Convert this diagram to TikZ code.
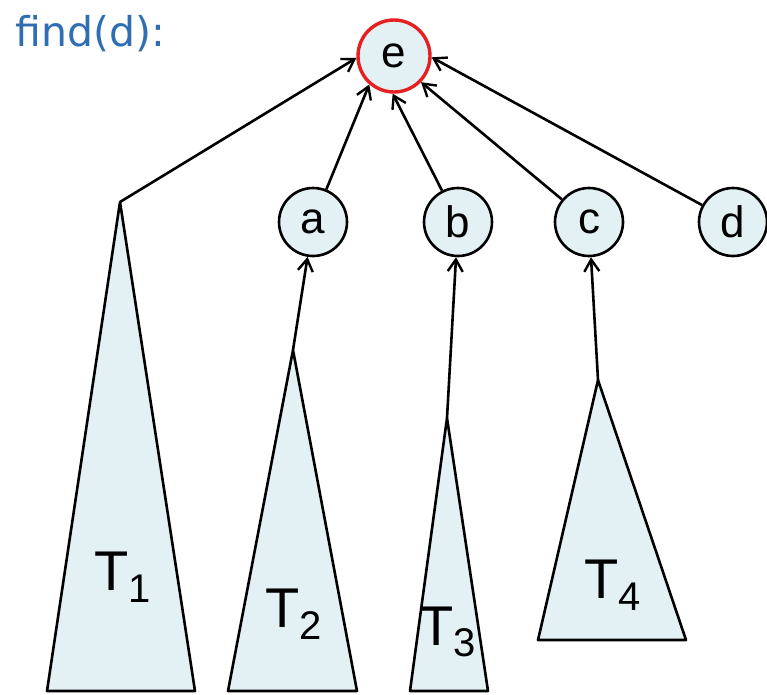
\documentclass[tikz,border=0pt]{standalone}
\usepackage{fontspec}
\setmainfont{Liberation Sans}
\newfontfamily\titlefont{DejaVu Sans}
\usetikzlibrary{arrows.meta}
\definecolor{treefill}{RGB}{228,241,244}
\definecolor{titleblue}{RGB}{47,110,180}
\definecolor{rootred}{RGB}{228,32,32}
\begin{document}
\begin{tikzpicture}[x=1pt,y=-1pt,
  edge/.style={line width=2.6pt, -{Straight Barb[length=12pt,width=15pt,line width=2.4pt]}},
  vertex/.style={circle, draw, line width=2.6pt, fill=treefill, minimum size=68pt,
    inner sep=0pt, font=\fontsize{44}{44}\selectfont},
  subtree/.style={draw, line width=2.6pt, fill=treefill, line join=round},
  tlabel/.style={anchor=base west, inner sep=0pt, font=\fontsize{56}{56}\selectfont}]
\useasboundingbox (0,0) rectangle (767,694);

% title
\node[anchor=base west, inner sep=0pt, text=titleblue,
  font=\titlefont\fontsize{41}{41}\selectfont] (title) at (15,46) {find(d):};

% subtrees hanging below the path nodes
\coordinate (p1) at (120,202);
\coordinate (p2) at (293,350);
\coordinate (p3) at (447,418);
\coordinate (p4) at (598,380);
\draw[subtree] (p1) -- (195,691) -- (47,691) -- cycle;
\draw[subtree] (p2) -- (357,691) -- (228,691) -- cycle;
\draw[subtree] (p3) -- (488,691) -- (410,691) -- cycle;
\draw[subtree] (p4) -- (686,640) -- (538,640) -- cycle;

\node[tlabel] (l1) at (94,590) {T\raisebox{-12pt}{\fontsize{40}{40}\selectfont 1}};
\node[tlabel] (l2) at (265,627) {T\raisebox{-12pt}{\fontsize{40}{40}\selectfont 2}};
\node[tlabel] (l3) at (419,645) {T\raisebox{-11pt}{\fontsize{40}{40}\selectfont 3}};
\node[tlabel] (l4) at (584,598) {T\raisebox{-12pt}{\fontsize{40}{40}\selectfont 4}};

% root and the nodes on the find path
\node[vertex, draw=rootred, line width=3.4pt, minimum size=72pt] (e) at (394,56) {e};
\node[vertex] (a) at (313,222) {a};
\node[vertex] (b) at (458,222) {b};
\node[vertex] (c) at (589,222) {c};
\node[vertex] (d) at (733,222) {d};

% parent pointers after path compression
\draw[edge] (p1) -- (e.183);
\draw[edge] (a) -- (e.229);
\draw[edge] (b) -- (e.268);
\draw[edge] (c) -- (e.316);
\draw[edge] (d) -- (e.358);

% subtree roots pointing to their parents
\draw[edge] (p2) -- (a);
\draw[edge] (p3) -- (b);
\draw[edge] (p4) -- (c);
\end{tikzpicture}
\end{document}
